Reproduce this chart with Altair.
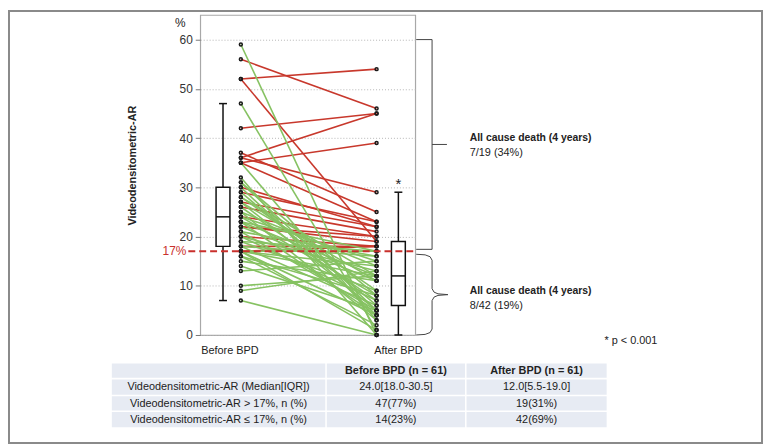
import altair as alt
import pandas as pd

# ---------------- data ----------------
# paired values per patient: before BPD and after BPD (%)
before = [52, 56, 42, 36, 35, 52, 37, 36, 35, 29, 27, 26, 24, 22, 22, 20, 18, 17, 30,
          59, 47, 35, 32, 31, 31, 30, 29, 28, 28, 27, 27, 26, 25, 25, 24, 24, 23, 23, 23,
          22, 21, 21, 20, 20, 19, 19, 18, 18, 17, 17, 17, 17, 17, 16, 16, 15, 14, 13, 10, 9, 7]
after = [54, 46, 45, 45, 39, 19, 25, 29, 23, 23, 22, 21, 20, 20, 19, 18, 18, 18, 22,
         0, 1, 3, 0, 5, 8, 4, 6, 9, 12, 5, 11, 7, 14, 3, 15, 8, 17, 4, 12,
         11, 16, 5, 13, 7, 17, 9, 16, 6, 17, 12, 4, 14, 1, 8, 2, 11, 5, 15, 12, 13, 0]
threshold = 17

phases = ["Before BPD", "After BPD"]
stat_names = ["min", "q1", "median", "q3", "max"]
box_before = [7, 18, 24, 30, 47]
box_after = [0, 6, 12, 19, 29]

y_ticks = [0, 10, 20, 30, 40, 50, 60]

upper_title = "All cause death (4 years)"
upper_value = "7/19 (34%)"
lower_title = "All cause death (4 years)"
lower_value = "8/42 (19%)"
pnote = "* p < 0.001"

table_header = ["", "Before BPD (n = 61)", "After BPD (n = 61)"]
row_labels = ["Videodensitometric-AR (Median[IQR])",
              "Videodensitometric-AR > 17%, n (%)",
              "Videodensitometric-AR \u2264 17%, n (%)"]
before_col = ["24.0[18.0-30.5]", "47(77%)", "14(23%)"]
after_col = ["12.0[5.5-19.0]", "19(31%)", "42(69%)"]

# ---------------- layout / style ----------------
FONT = "Liberation Sans Narrow, Arial Narrow, Liberation Sans, Arial, sans-serif"
FS = 11
RED = "#c8382c"
GREEN = "#86c262"
DASH_RED = "#c9302c"
INK = "#222222"
W, H = 217, 323
YMAX = 65


def yp(v):
    return H - v / YMAX * H


xscale = alt.Scale(domain=[0.7007, 2.2847], nice=False, zero=False)
yscale = alt.Scale(domain=[0, YMAX], nice=False, zero=False)

pairs = pd.DataFrame({"id": range(len(before)), "before": before, "after": after})
long = pairs.melt(id_vars="id", value_vars=["before", "after"], var_name="phase", value_name="val")
long["pos"] = long["phase"].map({"before": 1, "after": 2})
long["grp"] = long["id"].map(lambda i: "red" if after[i] > threshold else "green")

X = alt.X("pos:Q", scale=xscale, axis=None)

red_lines = alt.Chart(long[long.grp == "red"]).mark_line(color=RED, strokeWidth=1.6).encode(
    x=X, y=alt.Y("val:Q", scale=yscale, axis=None), detail="id:N")
green_lines = alt.Chart(long[long.grp == "green"]).mark_line(color=GREEN, strokeWidth=1.6).encode(
    x=X, y=alt.Y("val:Q", scale=yscale, axis=None), detail="id:N")

dots = alt.Chart(long).mark_point(shape="circle", filled=False, size=9, stroke="#1a1a1a",
                                  strokeWidth=1.5, opacity=1).encode(
    x=X,
    y=alt.Y("val:Q", scale=yscale,
            axis=alt.Axis(values=y_ticks, grid=True, gridDash=[1, 2], gridColor="#b5b5b5",
                          tickSize=5, tickColor="#777", domain=False, labelFont=FONT,
                          labelFontSize=12, labelColor="#333", labelPadding=3, title=None)))


def box_layers(stats, pos, off):
    df = pd.DataFrame([dict(zip(stat_names, stats), pos=pos)])
    base = alt.Chart(df)
    whisk = base.mark_rule(color="#111", strokeWidth=1.5, xOffset=off).encode(
        x=X, y=alt.Y("min:Q", scale=yscale, axis=None), y2="max:Q")
    cap_hi = base.mark_rule(color="#111", strokeWidth=1.5, xOffset=off - 4, x2Offset=off + 4).encode(
        x=X, x2="pos:Q", y=alt.Y("max:Q", scale=yscale, axis=None))
    cap_lo = base.mark_rule(color="#111", strokeWidth=1.5, xOffset=off - 4, x2Offset=off + 4).encode(
        x=X, x2="pos:Q", y=alt.Y("min:Q", scale=yscale, axis=None))
    rect = base.mark_rect(fill="white", stroke="#111", strokeWidth=1.5,
                          xOffset=off - 7, x2Offset=off + 7).encode(
        x=X, x2="pos:Q", y=alt.Y("q1:Q", scale=yscale, axis=None), y2="q3:Q")
    med = base.mark_rule(color="#111", strokeWidth=1.5, xOffset=off - 7, x2Offset=off + 7).encode(
        x=X, x2="pos:Q", y=alt.Y("median:Q", scale=yscale, axis=None))
    return [whisk, cap_hi, cap_lo, rect, med], base


bb_layers, _ = box_layers(box_before, 1, -18)
ba_layers, ba_base = box_layers(box_after, 2, 22)

star = ba_base.mark_text(text="*", font=FONT, fontSize=15, dx=22, dy=-8, color=INK).encode(
    x=X, y=alt.Y("max:Q", scale=yscale, axis=None))

thr = alt.Chart(pd.DataFrame({"t": [threshold]})).mark_rule(
    color=DASH_RED, strokeDash=[7, 4], strokeWidth=2).encode(
    x=alt.value(-12), x2=alt.value(215), y=alt.Y("t:Q", scale=yscale, axis=None))
thr_label = alt.Chart(pd.DataFrame({"t": [threshold]})).mark_text(
    text=f"{threshold}%", font=FONT, fontSize=12, color=DASH_RED, align="right", baseline="middle").encode(
    x=alt.value(-14), y=alt.Y("t:Q", scale=yscale, axis=None))

xl_df = pd.DataFrame({"label": phases, "pos": [1, 2]})
xlab_b = alt.Chart(xl_df[xl_df.pos == 1]).mark_text(font=FONT, fontSize=FS, color=INK, dx=-11,
                                                      baseline="middle").encode(
    x=X, y=alt.value(339), text="label:N")
xlab_a = alt.Chart(xl_df[xl_df.pos == 2]).mark_text(font=FONT, fontSize=FS, color=INK, dx=22,
                                                      baseline="middle").encode(
    x=X, y=alt.value(339), text="label:N")

pct = alt.Chart(pd.DataFrame({"a": [0]})).mark_text(text="%", font=FONT, fontSize=12, color=INK).encode(
    x=alt.value(-20), y=alt.value(8))
ytitle = alt.Chart(pd.DataFrame({"a": [0]})).mark_text(
    text="Videodensitometric-AR", font=FONT, fontSize=FS, fontWeight="bold", color=INK,
    angle=270, baseline="middle").encode(x=alt.value(-68), y=alt.value(152))

# ---- brackets on the right ----
BR = "#444"
upper_hi, upper_lo = 60, 17.4
brk = []
for (x1, x2, v1, v2) in [(234, 234, upper_hi, upper_lo), (218, 234, upper_hi, upper_hi),
                         (218, 234, upper_lo, upper_lo)]:
    brk.append(alt.Chart(pd.DataFrame({"a": [0]})).mark_rule(color=BR, strokeWidth=1).encode(
        x=alt.value(x1), x2=alt.value(x2), y=alt.value(yp(v1)), y2=alt.value(yp(v2))))
mid_u = yp((upper_hi + upper_lo) / 2)
brk.append(alt.Chart(pd.DataFrame({"a": [0]})).mark_rule(color=BR, strokeWidth=1).encode(
    x=alt.value(234), x2=alt.value(249), y=alt.value(mid_u), y2=alt.value(mid_u)))

lt, lb = yp(16.4), yp(0)
lm = (lt + lb) / 2
brace_pts = [(218, lt), (227, lt + 0.6), (232, lt + 2.5), (234, lt + 6), (234, lm - 6),
             (236, lm - 2.5), (240, lm - 0.8), (250, lm), (240, lm + 0.8), (236, lm + 2.5),
             (234, lm + 6), (234, lb - 6), (232, lb - 2.5), (227, lb - 0.6), (218, lb)]
brace_df = pd.DataFrame({"bx": [p[0] for p in brace_pts], "by": [p[1] for p in brace_pts],
                         "o": range(len(brace_pts))})
brace = alt.Chart(brace_df).mark_line(color=BR, strokeWidth=1, interpolate="linear").encode(
    x=alt.X("bx:Q", scale=None, axis=None), y=alt.Y("by:Q", scale=None, axis=None), order="o:Q")


def txt(s, x, y, bold=False, size=FS, align="left"):
    return alt.Chart(pd.DataFrame({"a": [0]})).mark_text(
        text=s, font=FONT, fontSize=size, fontWeight="bold" if bold else "normal", color=INK,
        align=align, baseline="middle").encode(x=alt.value(x), y=alt.value(y))


notes = [txt(upper_title, 272, 124, bold=True, size=10.5), txt(upper_value, 272, 139),
         txt(lower_title, 272, 279, bold=True, size=10.5), txt(lower_value, 272, 294),
         txt(pnote, 408, 329)]

# ---- table ----
col_edges = [-90, 127, 268, 411]
row_edges = [351, 367, 384, 400, 417]
cells = []
rows_text = [table_header] + [[row_labels[i], before_col[i], after_col[i]] for i in range(len(row_labels))]
for r in range(len(rows_text)):
    for c in range(3):
        cells.append({"x0": col_edges[c] + 0.8, "x1": col_edges[c + 1] - 0.8,
                      "y0": row_edges[r] + 0.8, "y1": row_edges[r + 1] - 0.8,
                      "xc": (col_edges[c] + col_edges[c + 1]) / 2,
                      "yc": (row_edges[r] + row_edges[r + 1]) / 2 + 0.5,
                      "t": rows_text[r][c], "hdr": r == 0})
cells = pd.DataFrame(cells)
tbl_bg = alt.Chart(cells).mark_rect(fill="#e7ebf3").encode(
    x=alt.X("x0:Q", scale=None, axis=None), x2="x1:Q",
    y=alt.Y("y0:Q", scale=None, axis=None), y2="y1:Q")
tbl_hdr = alt.Chart(cells[cells.hdr]).mark_text(font=FONT, fontSize=FS, fontWeight="bold", color=INK,
                                                baseline="middle").encode(
    x=alt.X("xc:Q", scale=None, axis=None), y=alt.Y("yc:Q", scale=None, axis=None), text="t:N")
tbl_body = alt.Chart(cells[~cells.hdr]).mark_text(font=FONT, fontSize=FS, color=INK,
                                                  baseline="middle").encode(
    x=alt.X("xc:Q", scale=None, axis=None), y=alt.Y("yc:Q", scale=None, axis=None), text="t:N")

border = alt.Chart(pd.DataFrame({"a": [0]})).mark_rect(fill="transparent", stroke="#8a8a8a",
                                                       strokeWidth=2).encode(
    x=alt.value(-193), x2=alt.value(567), y=alt.value(-4), y2=alt.value(432))

layers = ([red_lines, green_lines, dots] + bb_layers + ba_layers + [star, thr, thr_label,
          xlab_b, xlab_a, pct, ytitle] + brk + [brace] + notes + [tbl_bg, tbl_hdr, tbl_body, border])

chart = alt.layer(*layers).resolve_scale(x="independent", y="independent").properties(
    width=W, height=H,
    autosize=alt.AutoSizeParams(type="none"),
    padding={"left": 194, "top": 5, "right": 351, "bottom": 110},
    background="white",
).configure_view(stroke="#a8a8a8", strokeWidth=1.2)

chart.save("out.html", embed_options={"renderer": "svg", "actions": False})
